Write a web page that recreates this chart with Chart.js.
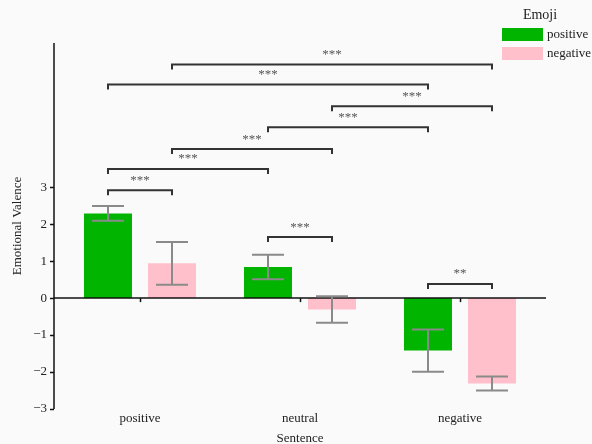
<!DOCTYPE html>
<html>
<head>
<meta charset="utf-8">
<script src="https://cdn.jsdelivr.net/npm/chart.js@4/dist/chart.umd.min.js"></script>
<style>
  html, body { margin: 0; padding: 0; background: #fafafa; }
  #wrap { width: 592px; height: 444px; position: relative; }
</style>
</head>
<body>
<div id="wrap"><canvas id="c" width="592" height="444"></canvas></div>
<script>
// ---- data ----
const categories = ['positive', 'neutral', 'negative'];
const seriesNames = ['positive', 'negative'];
const legendTitle = 'Emoji';
const positiveMeans = [2.29, 0.84, -1.42];
const positiveErrors = [0.20, 0.33, 0.57];
const negativeMeans = [0.94, -0.31, -2.31];
const negativeErrors = [0.58, 0.36, 0.19];
const yTickValues = [-3, -2, -1, 0, 1, 2, 3];
// significance brackets: from (category, series) to (category, series)
const bracketFromCat    = [0, 0, 1, 1, 0, 0, 0, 1, 2];
const bracketFromSeries = [1, 0, 1, 0, 1, 0, 0, 0, 0];
const bracketToCat      = [2, 2, 2, 2, 1, 1, 0, 1, 2];
const bracketToSeries   = [1, 0, 1, 0, 1, 0, 1, 1, 1];
const bracketHeights    = [6.32, 5.78, 5.19, 4.62, 4.03, 3.49, 2.92, 1.65, 0.38];
const bracketLabels     = ['***', '***', '***', '***', '***', '***', '***', '***', '**'];

const GREEN = '#00b400';
const PINK = '#ffc0cb';
const FONT = '"Liberation Serif", "Times New Roman", serif';

const errorsBySeries = [positiveErrors, negativeErrors];

const decorPlugin = {
  id: 'decor',
  afterDatasetsDraw(chart) {
    const ctx = chart.ctx;
    const y = chart.scales.y;
    const x = chart.scales.x;
    const area = chart.chartArea;
    const axisX = area.left - 6;
    const zeroY = y.getPixelForValue(0);
    ctx.save();
    // y axis line and ticks
    ctx.strokeStyle = '#111';
    ctx.lineWidth = 1.5;
    ctx.beginPath();
    ctx.moveTo(axisX, area.top);
    ctx.lineTo(axisX, area.bottom);
    ctx.stroke();
    yTickValues.forEach(v => {
      const py = Math.round(y.getPixelForValue(v)) + 0.5;
      ctx.beginPath();
      ctx.moveTo(axisX - 4, py);
      ctx.lineTo(axisX, py);
      ctx.stroke();
    });
    // zero line
    ctx.beginPath();
    ctx.moveTo(axisX, zeroY);
    ctx.lineTo(area.right + 6, zeroY);
    ctx.stroke();
    // x ticks on the zero line
    categories.forEach((c, i) => {
      const px = Math.round(x.getPixelForValue(i)) + 0.5;
      ctx.beginPath();
      ctx.moveTo(px, zeroY);
      ctx.lineTo(px, zeroY + 4);
      ctx.stroke();
    });
    // error bars
    ctx.strokeStyle = '#8a8a8a';
    ctx.lineWidth = 2;
    chart.data.datasets.forEach((ds, di) => {
      const meta = chart.getDatasetMeta(di);
      meta.data.forEach((bar, i) => {
        const m = ds.data[i];
        const e = errorsBySeries[di][i];
        const yt = y.getPixelForValue(m + e);
        const yb = y.getPixelForValue(m - e);
        const bx = bar.x;
        ctx.beginPath();
        ctx.moveTo(bx, yt); ctx.lineTo(bx, yb);
        ctx.moveTo(bx - 16, yt); ctx.lineTo(bx + 16, yt);
        ctx.moveTo(bx - 16, yb); ctx.lineTo(bx + 16, yb);
        ctx.stroke();
      });
    });
    // significance brackets
    ctx.strokeStyle = '#333';
    ctx.lineWidth = 2;
    ctx.fillStyle = '#555';
    ctx.font = '13px ' + FONT;
    ctx.textAlign = 'center';
    ctx.textBaseline = 'middle';
    bracketHeights.forEach((h, k) => {
      const x1 = chart.getDatasetMeta(bracketFromSeries[k]).data[bracketFromCat[k]].x;
      const x2 = chart.getDatasetMeta(bracketToSeries[k]).data[bracketToCat[k]].x;
      const py = y.getPixelForValue(h);
      ctx.beginPath();
      ctx.moveTo(x1, py + 5);
      ctx.lineTo(x1, py);
      ctx.lineTo(x2, py);
      ctx.lineTo(x2, py + 5);
      ctx.stroke();
      ctx.fillText(bracketLabels[k], (x1 + x2) / 2, py - 10);
    });
    // legend
    ctx.fillStyle = '#222';
    ctx.font = '14px ' + FONT;
    ctx.textAlign = 'center';
    ctx.textBaseline = 'middle';
    ctx.fillText(legendTitle, 540, 15);
    ctx.textAlign = 'left';
    ctx.font = '13px ' + FONT;
    chart.data.datasets.forEach((ds, di) => {
      const top = 28 + di * 19;
      ctx.fillStyle = ds.backgroundColor;
      ctx.fillRect(502, top, 41, 13);
      ctx.fillStyle = '#222';
      ctx.fillText(seriesNames[di], 547, top + 7);
    });
    ctx.restore();
  }
};

const bgPlugin = {
  id: 'bg',
  beforeDraw(chart) {
    const ctx = chart.ctx;
    ctx.save();
    ctx.fillStyle = '#fafafa';
    ctx.fillRect(0, 0, chart.width, chart.height);
    ctx.restore();
  }
};

new Chart(document.getElementById('c'), {
  type: 'bar',
  data: {
    labels: categories,
    datasets: [
      { label: seriesNames[0], data: positiveMeans, backgroundColor: GREEN },
      { label: seriesNames[1], data: negativeMeans, backgroundColor: PINK }
    ]
  },
  options: {
    responsive: false,
    animation: false,
    devicePixelRatio: 1,
    layout: { padding: { left: 0, right: 52, top: 43, bottom: 0 } },
    datasets: { bar: { categoryPercentage: 0.8, barPercentage: 0.75 } },
    plugins: { legend: { display: false }, tooltip: { enabled: false } },
    scales: {
      x: {
        type: 'category',
        grid: { display: false, drawTicks: false },
        border: { display: false },
        ticks: { color: '#222', font: { family: FONT, size: 13 }, padding: 2 },
        title: { display: true, text: 'Sentence', color: '#222', font: { family: FONT, size: 13 }, padding: { top: 0, bottom: -2 } },
        afterFit(scale) { scale.height = 35; }
      },
      y: {
        min: -3,
        max: 6.9,
        grid: { display: false, drawTicks: false },
        border: { display: false },
        afterBuildTicks(scale) { scale.ticks = yTickValues.map(v => ({ value: v })); },
        ticks: {
          color: '#222',
          font: { family: FONT, size: 13 },
          padding: 13,
          callback: v => (v < 0 ? '\u2212' + Math.abs(v) : String(v))
        },
        title: { display: true, text: 'Emotional Valence', color: '#222', font: { family: FONT, size: 13 }, padding: { top: 10, bottom: 4 } },
        afterFit(scale) { scale.width = 60; }
      }
    }
  },
  plugins: [bgPlugin, decorPlugin]
});
</script>
</body>
</html>
